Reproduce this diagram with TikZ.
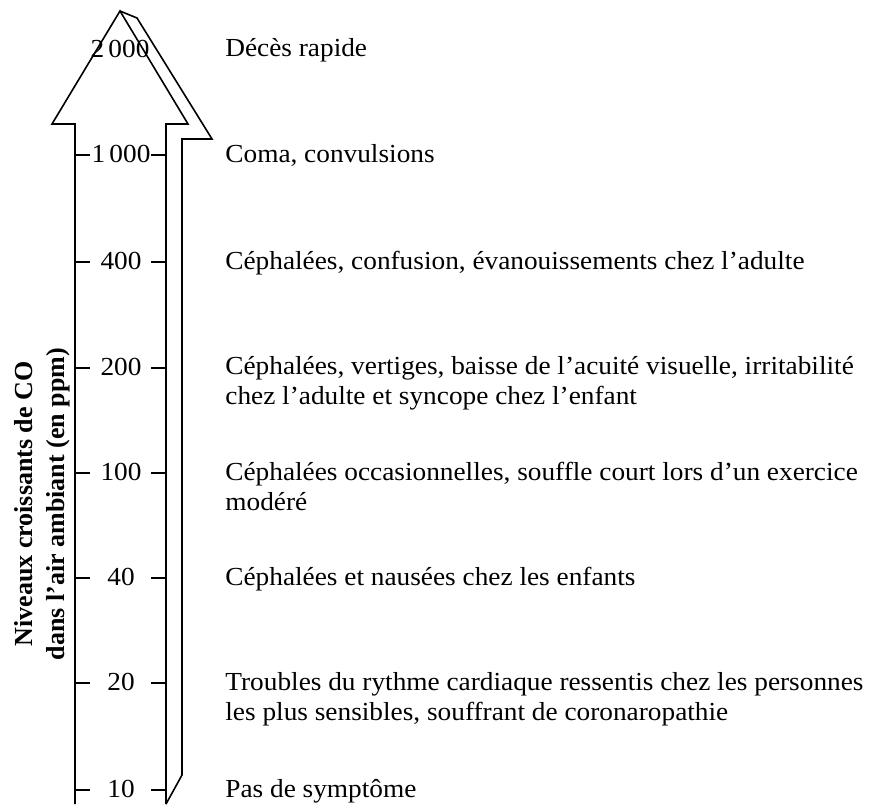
\documentclass[tikz,border=0pt]{standalone}
\usepackage{fontspec}
\setmainfont{Liberation Serif}
\newfontfamily\descfont{Liberation Serif}[FakeStretch=1.05]
\begin{document}
\begin{tikzpicture}[x=0.5pt,y=-0.5pt,
  outline/.style={line width=0.8pt,line join=miter},
  tick/.style={line width=0.8pt},
  lvl/.style={font=\descfont\fontsize{13}{15}\selectfont,inner sep=0pt,anchor=base},
  desc/.style={font=\descfont\fontsize{13}{15}\selectfont,inner sep=0pt,anchor=base west,align=left},
  axlab/.style={font=\fontsize{13}{16}\selectfont\bfseries,inner sep=0pt,align=center,rotate=90}]
\useasboundingbox (0,0) rectangle (876,804);
% shadow
\draw[outline] (120,11) -- (137,18) -- (212,139) -- (182,139) -- (182,775) -- (166,804);
% arrow
\draw[outline] (75,804) -- (75,124) -- (52,124) -- (120,11) -- (188,124) -- (166,124) -- (166,804);
% ticks
\foreach \y in {155,262,368,473,578,683,790}{
  \draw[tick] (75,\y) -- (90,\y);
  \draw[tick] (151,\y) -- (166,\y);
}
\node[lvl] (l2000) at (120,57) {2\,000};
\node[lvl] (l1000) at (121,162) {1\,000};
\node[lvl] (l400) at (121,269) {400};
\node[lvl] (l200) at (121,375) {200};
\node[lvl] (l100) at (121,480) {100};
\node[lvl] (l40) at (121,585) {40};
\node[lvl] (l20) at (121,690) {20};
\node[lvl] (l10) at (121,797) {10};
\node[desc] (d2000) at (225,56) {Décès rapide};
\node[desc] (d1000) at (225,162) {Coma, convulsions};
\node[desc] (d400) at (225,269) {Céphalées, confusion, évanouissements chez l’adulte};
\node[desc] (d200) at (225,404) {Céphalées, vertiges, baisse de l’acuité visuelle, irritabilité\\chez l’adulte et syncope chez l’enfant};
\node[desc] (d100) at (225,510) {Céphalées occasionnelles, souffle court lors d’un exercice\\modéré};
\node[desc] (d40) at (225,585) {Céphalées et nausées chez les enfants};
\node[desc] (d20) at (225,720) {Troubles du rythme cardiaque ressentis chez les personnes\\les plus sensibles, souffrant de coronaropathie};
\node[desc] (d10) at (225,797) {Pas de symptôme};
\node[axlab] (ax) at (42,504) {Niveaux croissants de CO\\dans l’air ambiant (en ppm)};
\end{tikzpicture}
\end{document}
